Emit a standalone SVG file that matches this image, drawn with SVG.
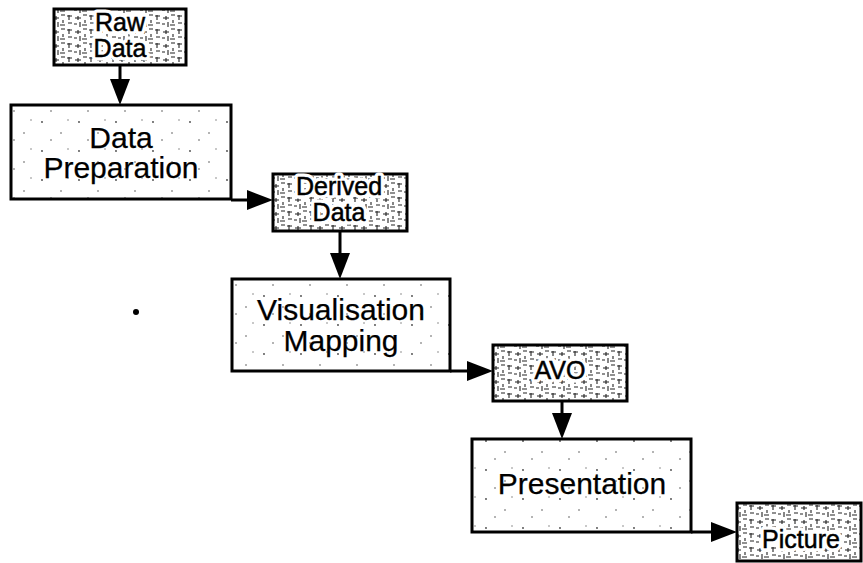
<svg xmlns="http://www.w3.org/2000/svg" width="863" height="563" viewBox="0 0 863 563">
  <style>
    .proc { fill: url(#speck); stroke: #000; stroke-width: 3; }
    .data { fill: url(#hatch); stroke: #000; stroke-width: 3; }
    .lbl { font-family: "Liberation Sans", Arial, sans-serif; fill: #000; text-anchor: middle; }
    .big { font-size: 30px; stroke: #000; stroke-width: 0.25; }
    .small { font-size: 25px; stroke: #000; stroke-width: 0.5; }
    .halo { font-size: 25px; fill: #fff; stroke: #fff; stroke-width: 7; stroke-linejoin: round; }
    .conn { fill: none; stroke: #000; stroke-width: 3; marker-end: url(#head); }
  </style>
  <defs>
    <!-- scratchy fill used for data stores -->
    <pattern id="hatch" width="22" height="14" patternUnits="userSpaceOnUse">
      <rect width="22" height="14" fill="#fff"/>
      <path d="M1,2h5 M3,1v5 M9,4h6 M12,2v4 M17,1h4 M2,9h4 M8,10h3 M14,8v5 M16,11h5 M19,6v3"
            stroke="#222" stroke-width="1.1" fill="none"/>
    </pattern>
    <!-- sparse specks used for process steps -->
    <pattern id="speck" width="37" height="29" patternUnits="userSpaceOnUse">
      <rect width="37" height="29" fill="#fff"/>
      <circle cx="5" cy="6" r="0.9" fill="#444"/>
      <circle cx="24" cy="17" r="0.8" fill="#555"/>
      <circle cx="31" cy="4" r="0.7" fill="#666"/>
      <circle cx="14" cy="24" r="0.8" fill="#555"/>
    </pattern>
    <marker id="head" markerUnits="userSpaceOnUse" markerWidth="28" markerHeight="22"
            refX="2" refY="10" orient="auto">
      <path d="M0,0 L26,10 L0,20 z" fill="#000"/>
    </marker>
  </defs>

  <g id="connectors">
    <path class="conn" d="M120,65 V81"/>
    <path class="conn" d="M231,200 H249"/>
    <path class="conn" d="M340,231 V255"/>
    <path class="conn" d="M450,371 H469"/>
    <path class="conn" d="M562,401 V415"/>
    <path class="conn" d="M691,532 H713"/>
  </g>

  <g id="raw-data">
    <rect class="data" x="54" y="9" width="132" height="56"/>
    <text class="lbl halo" x="120" y="31">Raw</text>
    <text class="lbl halo" x="120" y="57">Data</text>
    <text class="lbl small" x="120" y="31">Raw</text>
    <text class="lbl small" x="120" y="57">Data</text>
  </g>

  <g id="data-preparation">
    <rect class="proc" x="11" y="105" width="220" height="94"/>
    <text class="lbl big" x="121" y="148">Data</text>
    <text class="lbl big" x="121" y="178">Preparation</text>
  </g>

  <g id="derived-data">
    <rect class="data" x="273" y="174" width="134" height="57"/>
    <text class="lbl halo" x="339" y="195">Derived</text>
    <text class="lbl halo" x="339" y="221">Data</text>
    <text class="lbl small" x="339" y="195">Derived</text>
    <text class="lbl small" x="339" y="221">Data</text>
  </g>

  <g id="visualisation-mapping">
    <rect class="proc" x="232" y="279" width="218" height="92"/>
    <text class="lbl big" x="341" y="320">Visualisation</text>
    <text class="lbl big" x="341" y="351">Mapping</text>
  </g>

  <g id="avo">
    <rect class="data" x="493" y="345" width="134" height="56"/>
    <text class="lbl halo" x="560" y="379">AVO</text>
    <text class="lbl small" x="560" y="379">AVO</text>
  </g>

  <g id="presentation">
    <rect class="proc" x="472" y="439" width="219" height="93"/>
    <text class="lbl big" x="582" y="494">Presentation</text>
  </g>

  <g id="picture">
    <rect class="data" x="737" y="503" width="124" height="58"/>
    <text class="lbl halo" x="801" y="548">Picture</text>
    <text class="lbl small" x="801" y="548">Picture</text>
  </g>

  <circle cx="136" cy="312" r="3" fill="#000"/>
</svg>
